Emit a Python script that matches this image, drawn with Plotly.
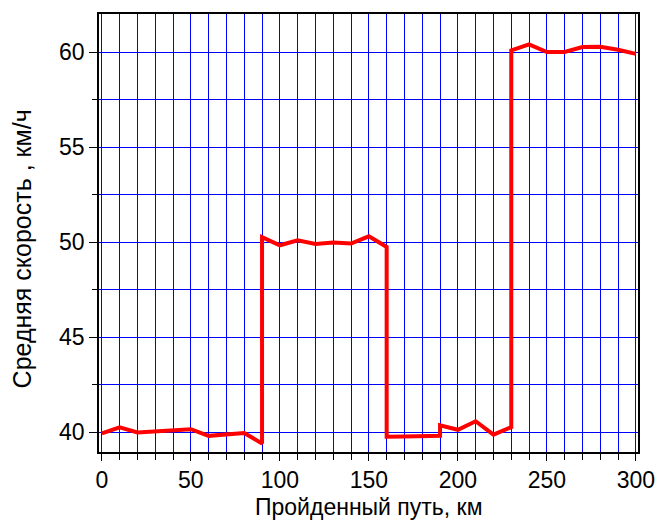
import plotly.graph_objects as go

distance_km = [0, 10, 20, 30, 40, 50, 60, 70, 80, 90, 90, 100, 110, 120, 130, 140, 150, 160,
               160, 170, 180, 190, 190, 200, 210, 220, 230, 230, 240, 250, 260, 270, 280, 290, 300]
speed_kmh = [39.93, 40.25, 39.98, 40.02, 40.06, 40.15, 39.8, 39.85, 39.95, 39.4, 50.26, 49.83, 50.09,
             49.9, 49.97, 49.92, 50.3, 49.74, 39.75, 39.77, 39.8, 39.8, 40.35, 40.12, 40.57, 39.86,
             40.26, 60.08, 60.4, 60.0, 60.0, 60.26, 60.28, 60.12, 59.9]

x_title = "Пройденный путь, км"
y_title = "Средняя скорость , км/ч"

fig = go.Figure()
fig.add_trace(go.Scatter(x=distance_km, y=speed_kmh, mode="lines",
                         line=dict(color="#ff0000", width=4), showlegend=False))

font_family = "Liberation Sans, Arial, sans-serif"
fig.update_layout(
    width=658, height=522,
    margin=dict(l=99, r=20, t=14, b=70),
    paper_bgcolor="white", plot_bgcolor="white",
    font=dict(family=font_family, size=23, color="black"),
)
fig.update_xaxes(
    range=[-1.6, 301.2], tickmode="linear", tick0=0, dtick=50,
    showgrid=True, gridcolor="#0000ff", gridwidth=1,
    ticks="outside", ticklen=7, tickwidth=1, tickcolor="black",
    showline=True, linecolor="black", linewidth=1.5, mirror=True,
    zeroline=False, automargin=False,
    minor=dict(dtick=10, tick0=0, showgrid=True, gridcolor="#0000ff", gridwidth=1,
               ticks="outside", ticklen=6, tickcolor="black"),
    tickfont=dict(size=23),
)
fig.update_yaxes(
    range=[38.95, 62.0], tickmode="linear", tick0=40, dtick=5,
    showgrid=True, gridcolor="#0000ff", gridwidth=1,
    ticks="outside", ticklen=8, tickwidth=1, tickcolor="black",
    showline=True, linecolor="black", linewidth=1.5, mirror=True,
    zeroline=False, automargin=False,
    minor=dict(dtick=2.5, tick0=40, showgrid=True, gridcolor="#0000ff", gridwidth=1,
               ticks="outside", ticklen=5, tickcolor="black"),
    tickfont=dict(size=23),
)

fig.add_annotation(text=x_title, xref="paper", yref="paper", x=0.5, y=0,
                   xanchor="center", yanchor="bottom", yshift=-70, showarrow=False,
                   font=dict(size=23, color="black"))
fig.add_annotation(text=y_title, xref="paper", yref="paper", x=0, y=0.4626,
                   xanchor="center", yanchor="middle", xshift=-77, textangle=-90,
                   showarrow=False, font=dict(size=25, color="black"))

fig.write_html("out.html")
